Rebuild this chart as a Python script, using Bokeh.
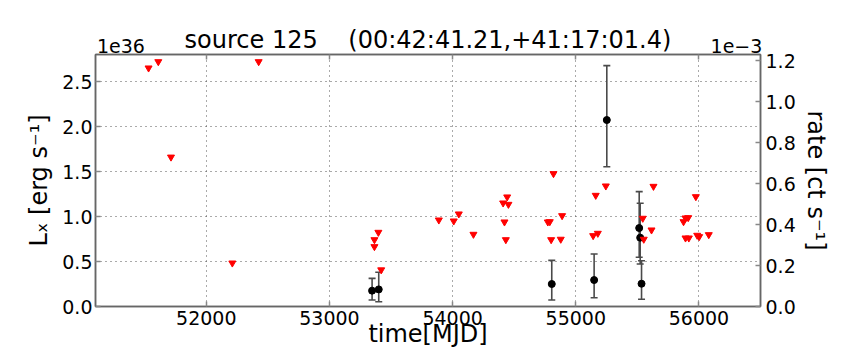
from bokeh.plotting import figure
from bokeh.models import (Range1d, LinearAxis, FixedTicker, Whisker,
                          ColumnDataSource, TeeHead, NumeralTickFormatter,
                          CustomJSTickFormatter)
from bokeh.embed import file_html
from bokeh.resources import INLINE

# ---------------- data ----------------
# upper limits: time [MJD], L_X [1e36 erg/s]
ul_mjd = [51531, 51610, 51713, 52211, 52425, 53365, 53365, 53397, 53420,
          53888, 54009, 54050, 54169, 54410, 54443, 54453, 54421, 54432,
          54773, 54789, 54819, 54800, 54878, 54889, 55141, 55179, 55162,
          55244, 55544, 55552, 55615, 55631, 55875, 55891, 55913, 55891,
          55918, 55975, 55986, 56002, 56080]
ul_lx = [2.65, 2.72, 1.66, 0.483, 2.72, 0.742, 0.665, 0.824, 0.407,
         0.961, 0.95, 1.028, 0.802, 1.15, 1.217, 1.135, 0.939, 0.742,
         0.939, 0.942, 1.476, 0.742, 0.747, 1.009, 0.787, 0.813, 1.235,
         1.339, 0.98, 0.747, 0.85, 1.335, 0.942, 0.983, 0.987, 0.761,
         0.761, 1.22, 0.791, 0.776, 0.798]

# detections with 1-sigma errors: time [MJD], L_X [1e36 erg/s]
det_mjd = [53346, 53400, 54805, 55149, 55252, 55515, 55523, 55534]
det_lx = [0.176, 0.190, 0.250, 0.294, 2.072, 0.872, 0.765, 0.253]
det_lo = [0.072, 0.053, 0.072, 0.098, 1.553, 0.547, 0.472, 0.080]
det_hi = [0.313, 0.380, 0.513, 0.583, 2.676, 1.276, 1.147, 0.509]

x_ticks = [52000, 53000, 54000, 55000, 56000]
lx_ticks = [0.0, 0.5, 1.0, 1.5, 2.0, 2.5]
rate_ticks = [0.0, 0.2, 0.4, 0.6, 0.8, 1.0, 1.2]

title_text = "source 125\u00a0\u00a0\u00a0\u00a0(00:42:41.21,+41:17:01.4)"
x_label = "time[MJD]"
y_label = "L\u2093 [erg s\u207b\u00b9]"
y2_label = "rate [ct s\u207b\u00b9]"
offset_left = "1e36"
offset_right = "1e\u22123"

# ---------------- layout ----------------
X0, X1 = 51100, 56500
Y1 = 2.8
R1 = 1.23
FONT = "DejaVu Sans"
W, H = 848, 352
FRAME_L, FRAME_R, FRAME_T, FRAME_B = 95, 760, 54, 306  # canvas pixels


def dx(px):
    return X0 + (px - FRAME_L) * (X1 - X0) / (FRAME_R - FRAME_L)


p = figure(width=W, height=H, x_range=Range1d(X0, X1), y_range=Range1d(0, Y1),
           output_backend="svg", toolbar_location=None, title=None,
           min_border_left=FRAME_L, min_border_right=W - FRAME_R,
           min_border_top=FRAME_T, min_border_bottom=H - FRAME_B)
p.extra_y_ranges = {"rate": Range1d(0, R1)}
p.background_fill_color = "white"
p.border_fill_color = "white"
p.outline_line_color = "#666666"
p.outline_line_width = 1.5

AX = "#666666"


def style_axis(ax, standoff):
    ax.axis_line_color = AX
    ax.axis_line_width = 1.5
    ax.major_tick_in = 5
    ax.major_tick_out = 0
    ax.major_tick_line_color = "#888888"
    ax.major_tick_line_width = 1.5
    ax.minor_tick_line_color = None
    ax.major_label_text_font = FONT
    ax.major_label_text_font_size = "19px"
    ax.major_label_text_color = "black"
    ax.major_label_standoff = standoff
    ax.axis_label_text_font = FONT
    ax.axis_label_text_font_size = "24px"
    ax.axis_label_text_font_style = "normal"
    ax.axis_label_text_color = "black"


# bottom axis
xa = p.xaxis[0]
xa.ticker = FixedTicker(ticks=x_ticks)
style_axis(xa, 4)
xa.axis_label = x_label
xa.axis_label_standoff = -8

# left axis
ya = p.yaxis[0]
ya.ticker = FixedTicker(ticks=lx_ticks)
ya.formatter = NumeralTickFormatter(format="0.0")
style_axis(ya, 3)
ya.axis_label = y_label
ya.axis_label_standoff = 6

# right axis (count rate, units of 1e-3)
ra = LinearAxis(y_range_name="rate", ticker=FixedTicker(ticks=rate_ticks),
                formatter=NumeralTickFormatter(format="0.0"))
style_axis(ra, 5)
ra.axis_label = y2_label
ra.axis_label_standoff = 3
p.add_layout(ra, "right")

# top axis: ticks only
ta = LinearAxis(ticker=FixedTicker(ticks=x_ticks))
style_axis(ta, 0)
ta.major_label_text_font_size = "0px"
ta.major_label_text_color = None
p.add_layout(ta, "above")

# top text axis: offset labels + title
tt = LinearAxis(ticker=FixedTicker(ticks=[int(dx(120.5)), int(dx(736))]),
                formatter=CustomJSTickFormatter(
                    args=dict(a=offset_left, b=offset_right, mid=(X0 + X1) / 2),
                    code="return tick < mid ? a : b;"))
style_axis(tt, 2)
tt.axis_line_color = None
tt.major_tick_line_color = None
tt.axis_label = title_text
tt.axis_label_standoff_mode = "axis"
tt.axis_label_standoff = 1
p.add_layout(tt, "above")

for g in (p.xgrid[0], p.ygrid[0]):
    g.grid_line_color = "#555555"
    g.grid_line_dash = "1 4"
    g.grid_line_width = 1
p.xgrid[0].ticker = FixedTicker(ticks=x_ticks)
p.ygrid[0].ticker = FixedTicker(ticks=lx_ticks)

# ---------------- marks ----------------
det_src = ColumnDataSource(dict(t=det_mjd, lx=det_lx, lo=det_lo, hi=det_hi))
EB = "#4a4a4a"
p.add_layout(Whisker(base="t", lower="lo", upper="hi", source=det_src,
                     dimension="height", line_color=EB, line_width=1.6,
                     upper_head=TeeHead(size=7, line_color=EB, line_width=1.6),
                     lower_head=TeeHead(size=7, line_color=EB, line_width=1.6)))
p.scatter("t", "lx", source=det_src, marker="circle", size=7,
          fill_color="black", line_color="black")

p.scatter(ul_mjd, ul_lx, marker="inverted_triangle", size=7,
          fill_color="red", line_color="red")

open("out.html", "w").write(file_html(p, INLINE))
